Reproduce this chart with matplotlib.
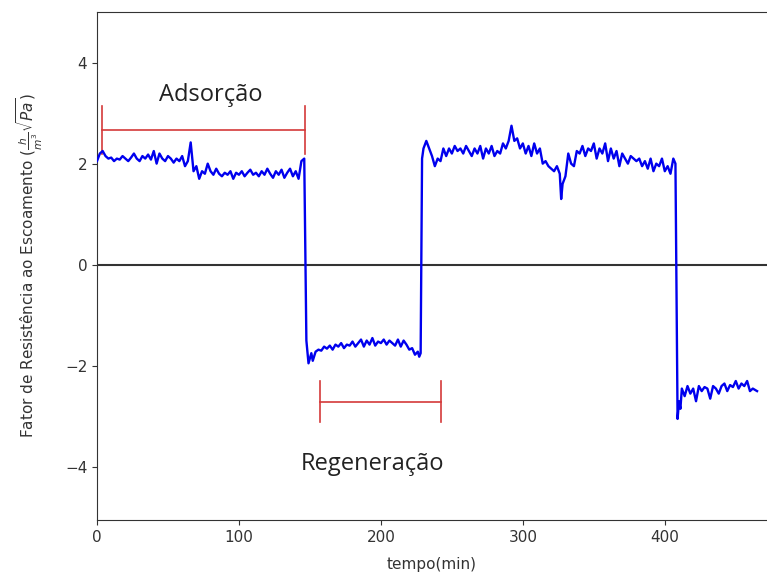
import matplotlib
matplotlib.use("Agg")
import matplotlib.pyplot as plt

# --- data ---
t_ads = [0, 2, 4, 6, 8, 10, 12, 14, 16, 18, 20, 22, 24, 26, 28, 30, 32, 34, 36, 38,
         40, 42, 44, 46, 48, 50, 52, 54, 56, 58, 60, 62, 64, 66, 68, 70, 72, 74, 76, 78,
         80, 82, 84, 86, 88, 90, 92, 94, 96, 98, 100, 102, 104, 106, 108, 110, 112, 114,
         116, 118, 120, 122, 124, 126, 128, 130, 132, 134, 136, 138, 140, 142, 144, 146]
v_ads = [2.05, 2.2, 2.25, 2.15, 2.1, 2.12, 2.05, 2.1, 2.08, 2.15, 2.1, 2.05, 2.12, 2.2,
         2.1, 2.05, 2.15, 2.1, 2.18, 2.08, 2.25, 2.0, 2.2, 2.1, 2.05, 2.15, 2.1, 2.02,
         2.1, 2.05, 2.15, 1.95, 2.05, 2.42, 1.85, 1.95, 1.7, 1.85, 1.8, 2.0, 1.85, 1.78,
         1.9, 1.8, 1.75, 1.82, 1.78, 1.85, 1.7, 1.82, 1.78, 1.85, 1.75, 1.82, 1.88, 1.78,
         1.82, 1.75, 1.85, 1.78, 1.9, 1.8, 1.72, 1.85, 1.78, 1.88, 1.72, 1.82, 1.9, 1.75,
         1.85, 1.7, 2.05, 2.1]

t_reg = [147.5, 149, 150, 151, 152, 154, 156, 158, 160, 162, 164, 166, 168, 170, 172,
         174, 176, 178, 180, 182, 184, 186, 188, 190, 192, 194, 196, 198, 200, 202, 204,
         206, 208, 210, 212, 214, 216, 218, 220, 222, 224, 226, 227, 228]
v_reg = [-1.5, -1.95, -1.85, -1.75, -1.9, -1.72, -1.68, -1.7, -1.62, -1.66, -1.6, -1.68,
         -1.58, -1.62, -1.55, -1.65, -1.58, -1.6, -1.52, -1.62, -1.55, -1.48, -1.62, -1.5,
         -1.58, -1.45, -1.6, -1.52, -1.55, -1.48, -1.58, -1.5, -1.55, -1.6, -1.48, -1.62,
         -1.5, -1.58, -1.68, -1.65, -1.78, -1.72, -1.82, -1.75]

t_ads2 = [229, 230, 232, 234, 236, 238, 240, 242, 244, 246, 248, 250, 252, 254, 256, 258,
          260, 262, 264, 266, 268, 270, 272, 274, 276, 278, 280, 282, 284, 286, 288, 290,
          292, 294, 296, 298, 300, 302, 304, 306, 308, 310, 312, 314, 316, 318, 320, 322,
          324, 326, 327, 328, 330, 332, 334, 336, 338, 340, 342, 344, 346, 348, 350, 352,
          354, 356, 358, 360, 362, 364, 366, 368, 370, 372, 374, 376, 378, 380, 382, 384,
          386, 388, 390, 392, 394, 396, 398, 400, 402, 404, 406, 407.5]
v_ads2 = [2.1, 2.3, 2.45, 2.3, 2.15, 1.95, 2.1, 2.05, 2.3, 2.15, 2.3, 2.2, 2.35, 2.25, 2.3,
          2.2, 2.35, 2.25, 2.15, 2.3, 2.2, 2.35, 2.1, 2.3, 2.2, 2.35, 2.15, 2.25, 2.2, 2.4,
          2.3, 2.45, 2.75, 2.45, 2.5, 2.3, 2.4, 2.2, 2.35, 2.15, 2.4, 2.2, 2.3, 2.0, 2.05,
          1.95, 1.9, 1.85, 1.95, 1.8, 1.3, 1.6, 1.75, 2.2, 2.0, 1.95, 2.25, 2.2, 2.35, 2.15,
          2.3, 2.25, 2.4, 2.1, 2.3, 2.2, 2.4, 2.05, 2.3, 2.1, 2.25, 1.95, 2.2, 2.1, 2.0,
          2.15, 2.1, 2.05, 2.1, 1.95, 2.05, 1.9, 2.1, 1.85, 2.0, 1.95, 2.1, 1.85, 1.95, 1.8,
          2.1, 2.0]

t_reg2 = [409, 410, 411, 412, 414, 416, 418, 420, 422, 424, 426, 428, 430, 432, 434, 436,
          438, 440, 442, 444, 446, 448, 450, 452, 454, 456, 458, 460, 462, 465]
v_reg2 = [-3.05, -2.7, -2.85, -2.45, -2.6, -2.4, -2.55, -2.45, -2.7, -2.4, -2.5, -2.42,
          -2.45, -2.65, -2.4, -2.45, -2.55, -2.4, -2.35, -2.5, -2.38, -2.42, -2.3, -2.45,
          -2.35, -2.4, -2.3, -2.5, -2.45, -2.5]

ads_bracket = (3.5, 146.5, 2.67, 0.47)   # x0, x1, y, half-height
reg_bracket = (157, 242, -2.71, 0.41)
ads_label = (80, 3.35, "Adsorção")
reg_label = (194, -3.95, "Regeneração")

time = t_ads + t_reg + t_ads2 + t_reg2
value = v_ads + v_reg + v_ads2 + v_reg2

fig = plt.figure(figsize=(7.67, 5.77), dpi=100)
ax = fig.add_axes([97 / 767, 1 - 520 / 577, 1 - 97 / 767, (520 - 12) / 577])

ax.axhline(0, color="#333333", lw=1.5, zorder=1)
ax.plot(time, value, color="#0000ee", lw=1.7, zorder=3)

red = "#d43a3a"
for (x0, x1, y, h) in (ads_bracket, reg_bracket):
    ax.plot([x0, x1], [y, y], color=red, lw=1.2, zorder=2)
    ax.plot([x0, x0], [y - h, y + h], color=red, lw=1.2, zorder=2)
    ax.plot([x1, x1], [y - h, y + h], color=red, lw=1.2, zorder=2)

for (x, y, s) in (ads_label, reg_label):
    ax.text(x, y, s, ha="center", va="center", fontsize=17,
            family="Open Sans", color="#222222")

ax.set_xlim(0, 472)
ax.set_ylim(-5.05, 5.0)
ax.set_xticks([0, 100, 200, 300, 400])
ax.set_yticks([-4, -2, 0, 2, 4])
ax.spines["right"].set_visible(False)
for s in ("left", "bottom", "top"):
    ax.spines[s].set_color("#333333")
ax.tick_params(labelsize=11, colors="#333333")
ax.set_xlabel("tempo(min)", fontsize=11, color="#333333", labelpad=9)
ax.set_ylabel(r"Fator de Resistência ao Escoamento ($\frac{h}{m^3}\sqrt{Pa}$)",
              fontsize=11, color="#333333", labelpad=14)

fig.savefig("out.png", dpi=100)
